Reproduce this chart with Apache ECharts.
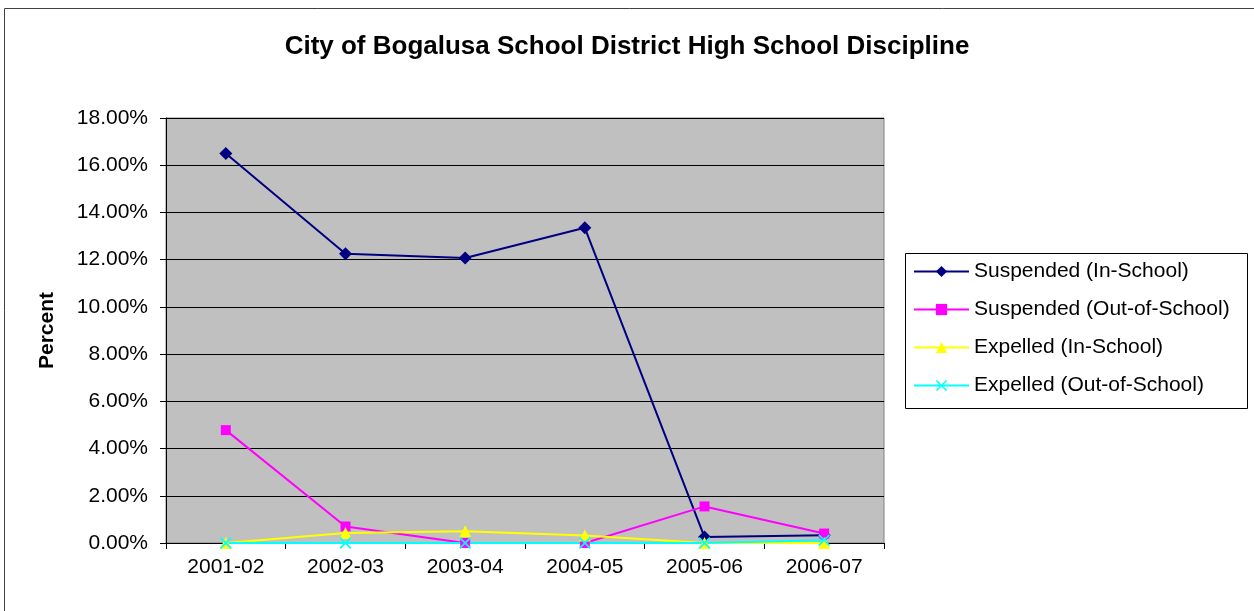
<!DOCTYPE html>
<html>
<head>
<meta charset="utf-8">
<script src="https://cdn.jsdelivr.net/npm/echarts@6/dist/echarts.min.js"></script>
<style>
  html, body { margin: 0; padding: 0; background: #ffffff; }
  #chart { width: 1254px; height: 611px; }
</style>
</head>
<body>
<div id="chart"></div>
<script>
// school years on the x axis
const years = ['2001-02', '2002-03', '2003-04', '2004-05', '2005-06', '2006-07'];

// percentages
const suspendedIn = [16.5, 12.25, 12.07, 13.35, 0.25, 0.33];
const suspendedOut = [4.78, 0.7, 0, 0, 1.55, 0.4];
const expelledIn = [0, 0.42, 0.5, 0.32, 0, 0];
const expelledOut = [0, 0, 0, 0, 0, 0.12];

const font = '"Liberation Sans", Arial, sans-serif';
const crossPath = 'path://M0,1L1,0L5,4L9,0L10,1L6,5L10,9L9,10L5,6L1,10L0,9L4,5Z';

const chart = echarts.init(document.getElementById('chart'));

const mkSeries = (name, data, color, symbol, size) => ({
    name: name,
    type: 'line',
    data: data,
    symbol: symbol,
    symbolSize: size,
    showAllSymbol: true,
    lineStyle: { color: color, width: 2 },
    itemStyle: { color: color, borderWidth: 0 },
    emphasis: { disabled: true },
    animation: false
});

chart.setOption({
    backgroundColor: '#ffffff',
    animation: false,
    title: {
        text: 'City of Bogalusa School District High School Discipline',
        left: 'center',
        top: 29,
        textStyle: { fontFamily: font, fontSize: 26, fontWeight: 'bold', color: '#000' }
    },
    legend: {
        orient: 'vertical',
        left: 905,
        top: 253,
        padding: [8, 8, 8, 8],
        itemGap: 17,
        itemWidth: 55,
        itemHeight: 14,
        textStyle: { fontFamily: font, fontSize: 21, color: '#000' },
        data: ['Suspended (In-School)', 'Suspended (Out-of-School)', 'Expelled (In-School)', 'Expelled (Out-of-School)']
    },
    grid: {
        left: 166,
        right: 370,
        top: 118,
        bottom: 68,
        show: true,
        backgroundColor: '#c0c0c0',
        borderColor: '#808080',
        borderWidth: 1
    },
    xAxis: {
        type: 'category',
        data: years,
        boundaryGap: true,
        axisLine: { show: true, lineStyle: { color: '#000', width: 1 } },
        axisTick: { show: true, length: 6, lineStyle: { color: '#000' } },
        axisLabel: { fontFamily: font, fontSize: 21, color: '#000', margin: 14 },
        splitLine: { show: false }
    },
    yAxis: {
        type: 'value',
        min: 0,
        max: 18,
        interval: 2,
        name: 'Percent',
        nameLocation: 'middle',
        nameGap: 108,
        nameTextStyle: { fontFamily: font, fontSize: 21, fontWeight: 'bold', color: '#000' },
        axisLine: { show: true, lineStyle: { color: '#000', width: 1 } },
        axisTick: { show: true, length: 6, lineStyle: { color: '#000' } },
        axisLabel: {
            fontFamily: font, fontSize: 21, color: '#000', margin: 18,
            formatter: v => v.toFixed(2) + '%'
        },
        splitLine: { show: true, lineStyle: { color: '#000', width: 1 } }
    },
    series: [
        mkSeries('Suspended (In-School)', suspendedIn, '#000080', 'diamond', 13),
        mkSeries('Suspended (Out-of-School)', suspendedOut, '#ff00ff', 'rect', 10),
        mkSeries('Expelled (In-School)', expelledIn, '#ffff00', 'triangle', 12),
        mkSeries('Expelled (Out-of-School)', expelledOut, '#00ffff', crossPath, 12)
    ],
    graphic: [{
        type: 'rect',
        shape: { x: 4.5, y: 8.5, width: 1260, height: 620 },
        style: { fill: 'none', stroke: '#404040', lineWidth: 1 },
        silent: true
    }, {
        // legend frame
        type: 'rect',
        shape: { x: 905.5, y: 253.5, width: 342, height: 155 },
        style: { fill: 'none', stroke: '#000', lineWidth: 1 },
        silent: true
    }]
});
</script>
</body>
</html>
